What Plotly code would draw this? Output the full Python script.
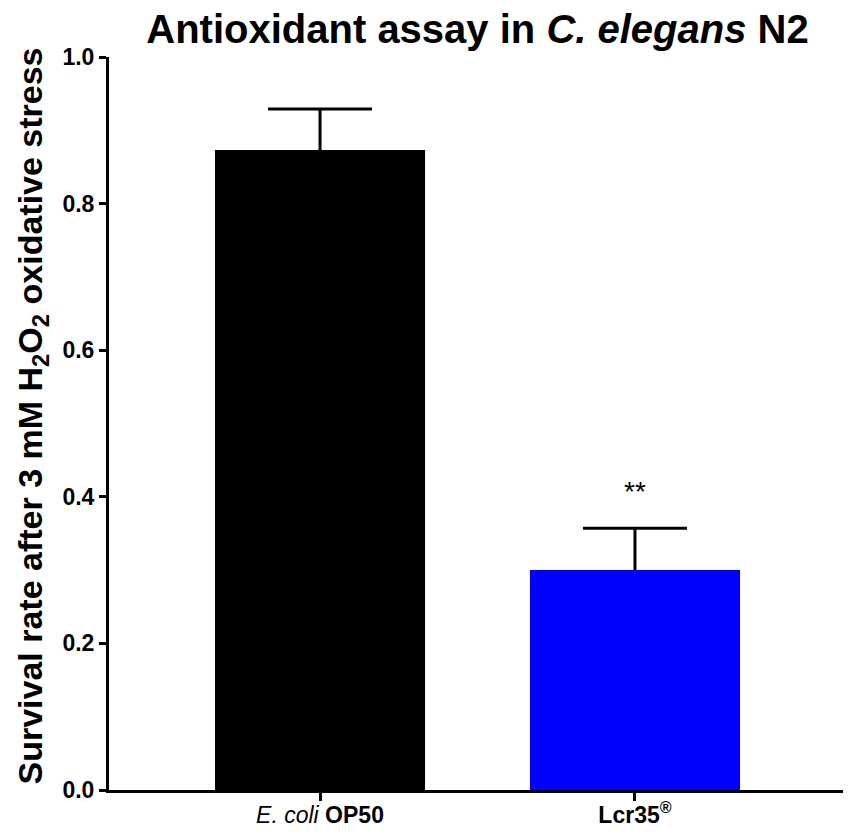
import plotly.graph_objects as go

categories = ["E. coli OP50", "Lcr35®"]
tick_labels = ["<i>E. coli</i> <b>OP50</b>", "<b>Lcr35<sup>®</sup></b>"]
means = [0.873, 0.300]
errors = [0.056, 0.057]
bar_colors = ["#000000", "#0000FF"]
significance = ["", "**"]
y_ticks = [0.0, 0.2, 0.4, 0.6, 0.8, 1.0]

font = "Liberation Sans, Arial, Helvetica, sans-serif"

fig = go.Figure()
# error bars (drawn first, so the bars cover their lower half)
fig.add_trace(go.Bar(
    x=categories, y=means, width=0.667,
    marker=dict(color="rgba(0,0,0,0)", line=dict(width=0)),
    error_y=dict(type="data", array=errors, symmetric=True,
                 color="#000000", thickness=3, width=52),
    showlegend=False, hoverinfo="skip",
))
fig.add_trace(go.Bar(
    x=categories, y=means, width=0.667,
    marker=dict(color=bar_colors, line=dict(width=0)),
    showlegend=False,
))

for i, s in enumerate(significance):
    if s:
        fig.add_annotation(x=categories[i], y=means[i] + errors[i] + 0.05,
                           text=s, showarrow=False, yanchor="middle",
                           font=dict(family=font, size=28, color="#000000"))

fig.add_annotation(xref="paper", yref="paper", x=-0.104, y=0.51,
                   text="<b>Survival rate after 3 mM H<sub>2</sub>O<sub>2</sub> oxidative stress</b>",
                   textangle=-90, showarrow=False, xanchor="center", yanchor="middle",
                   font=dict(family=font, size=34, color="#000000"))

fig.update_layout(
    width=851, height=832,
    barmode="overlay",
    margin=dict(l=101, r=13, t=49, b=37),
    paper_bgcolor="white", plot_bgcolor="white",
    title=dict(text="<b>Antioxidant assay in <i>C. elegans</i> N2</b>",
               x=0.5, xref="paper", xanchor="center",
               y=1 - 21 / 832, yref="container", yanchor="middle",
               font=dict(family=font, size=40, color="#000000")),
    xaxis=dict(range=[-0.67, 1.67], tickmode="array", tickvals=categories,
               ticktext=tick_labels, showline=True, linecolor="#000000", linewidth=3,
               ticks="outside", ticklen=8, tickwidth=3, tickcolor="#000000",
               ticklabelstandoff=-6,
               showgrid=False, zeroline=False,
               tickfont=dict(family=font, size=23, color="#000000")),
    yaxis=dict(range=[0, 1], tickmode="array", tickvals=y_ticks,
               ticktext=[f"{v:.1f}" for v in y_ticks],
               showline=True, linecolor="#000000", linewidth=3,
               ticks="outside", ticklen=7, tickwidth=3, tickcolor="#000000",
               showgrid=False, zeroline=False,
               tickfont=dict(family=font, size=23, color="#000000", weight="bold")),
)

fig.write_html("out.html")
